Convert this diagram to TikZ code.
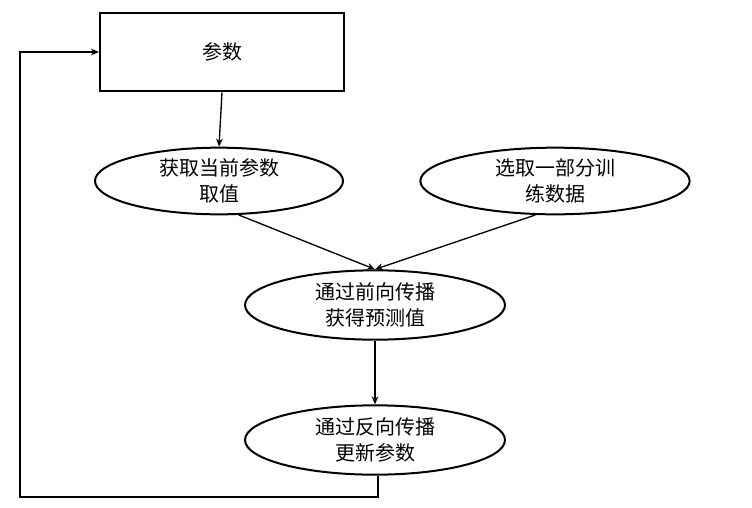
\documentclass[tikz,border=0pt]{standalone}
\usepackage{fontspec}
\setmainfont{Noto Sans CJK SC}
\usetikzlibrary{shapes.geometric,arrows.meta}
\begin{document}
\begin{tikzpicture}[x=0.75pt,y=-0.75pt,
  box/.style={draw,line width=1.5pt,minimum width=183pt,minimum height=59pt,font=\fontsize{15}{19}\selectfont},
  ell/.style={draw,ellipse,line width=1.5pt,inner sep=0pt,align=center,font=\fontsize{15}{19}\selectfont},
  arr/.style={-{Stealth[length=6pt,width=5pt]},line width=1pt}]
\useasboundingbox (0,0) rectangle (752,507);
\node[box] (p) at (222,52) {参数};
\node[ell,minimum width=186pt,minimum height=50pt] (a) at (219,181) {获取当前参数\\取值};
\node[ell,minimum width=202pt,minimum height=50pt] (b) at (555,181) {选取一部分训\\练数据};
\node[ell,minimum width=195pt,minimum height=52pt] (c) at (375,305) {通过前向传播\\获得预测值};
\node[ell,minimum width=195pt,minimum height=52pt] (d) at (375,440) {通过反向传播\\更新参数};
\draw[arr] (p.south) -- (a.north);
\draw[arr] (a.-60) -- (c.north);
\draw[arr] (b.-120) -- (c.north);
\draw[arr] (c.south) -- (d.north);
\coordinate (l1) at (378,497);
\coordinate (l2) at (20,497);
\coordinate (l3) at (20,52);
\draw[arr,line width=1.5pt] (d.south -| l1) -- (l1) -- (l2) -- (l3) -- (p.west);
\end{tikzpicture}
\end{document}
